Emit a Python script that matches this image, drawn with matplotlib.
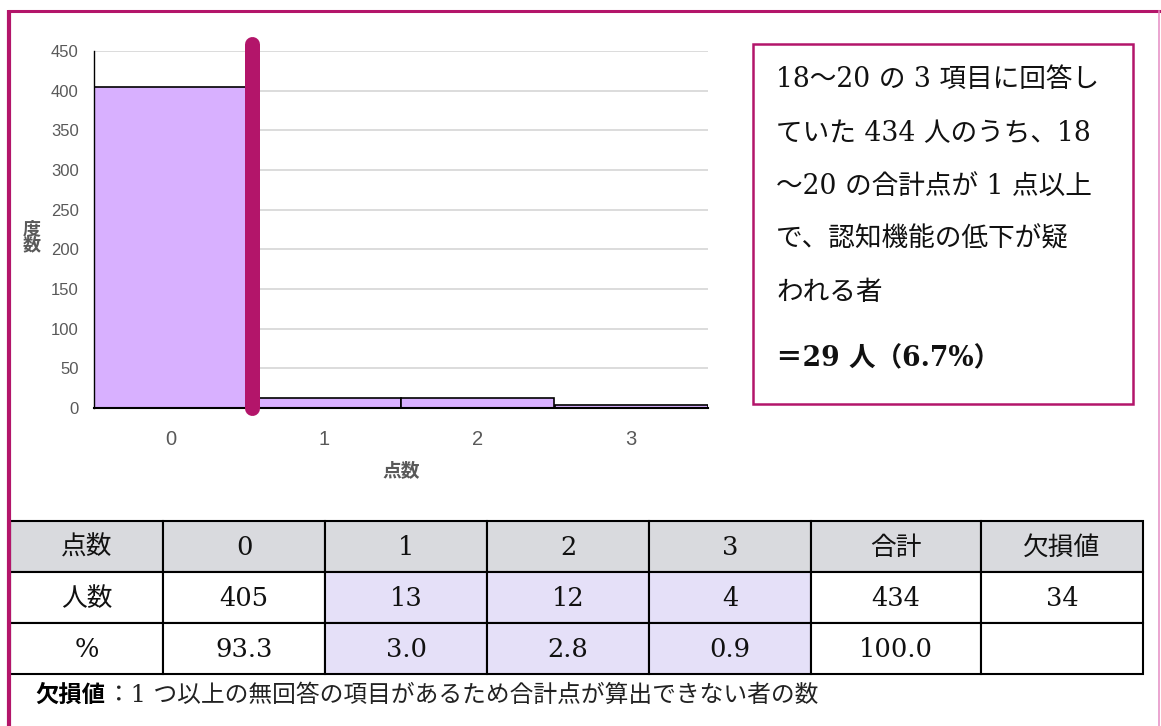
import matplotlib
matplotlib.use('Agg')
import matplotlib.pyplot as plt
from matplotlib.patches import Rectangle

# data
scores = [0, 1, 2, 3]
counts = [405, 13, 12, 4]
y_ticks = [0, 50, 100, 150, 200, 250, 300, 350, 400, 450]
cut_point = 0.53  # magenta divider between 0 and 1 point

header_row = ['点数', '0', '1', '2', '3', '合計', '欠損値']
count_row = ['人数', '405', '13', '12', '4', '434', '34']
pct_row = ['%', '93.3', '3.0', '2.8', '0.9', '100.0', '']

box_lines = ['18～20 の 3 項目に回答し',
             'ていた 434 人のうち、18',
             '～20 の合計点が 1 点以上',
             'で、認知機能の低下が疑',
             'われる者']
box_result = '＝29 人（6.7%）'
note_head = '欠損値'
note_body = '：1 つ以上の無回答の項目があるため合計点が算出できない者の数'

W, H = 1161, 726
MAGENTA = '#B3156A'
BAR = '#D8B0FF'
LAV = '#E5E0F8'
HEAD = '#D9DADE'
GRAY = '#595959'
serif = ['DejaVu Serif', 'Noto Sans CJK JP']
sans = ['Liberation Sans', 'Noto Sans CJK JP']

fig = plt.figure(figsize=(W / 100, H / 100), dpi=100)

# ---- histogram ----
ax = fig.add_axes([94 / W, 1 - 408 / H, 614 / W, 357 / H])
ax.bar(scores, counts, width=1.0, color=BAR, edgecolor='black', linewidth=1.2, zorder=2)
ax.set_xlim(-0.5, 3.5)
ax.set_ylim(0, 450)
ax.set_yticks(y_ticks)
ax.set_xticks(scores)
ax.yaxis.grid(True, color='#D9D9D9', lw=1.3)
ax.set_axisbelow(True)
for s in ['top', 'right']:
    ax.spines[s].set_visible(False)
ax.spines['left'].set_linewidth(1.0)
ax.spines['bottom'].set_linewidth(1.5)
ax.tick_params(length=0)
ax.tick_params(axis='y', pad=11, labelsize=12, labelcolor=GRAY)
ax.tick_params(axis='x', pad=16, labelsize=14.5, labelcolor=GRAY)
for lb in ax.get_xticklabels() + ax.get_yticklabels():
    lb.set_family(sans)
ax.set_xlabel('点数', family=sans, fontsize=13.5, color=GRAY, fontweight='bold', labelpad=9)
ax.plot([cut_point, cut_point], [0, 459], color=MAGENTA, lw=10.8,
        solid_capstyle='round', clip_on=False, zorder=5)

# ---- overlay in pixel coordinates ----
ov = fig.add_axes([0, 0, 1, 1], zorder=10)
ov.set_xlim(0, W)
ov.set_ylim(H, 0)
ov.set_axis_off()

# frame
ov.plot([8, W], [11, 11], color=MAGENTA, lw=2.2, solid_capstyle='butt')
ov.plot([9, 9], [10, H], color=MAGENTA, lw=3.0, solid_capstyle='butt')
ov.plot([1159, 1159], [11, H], color='#E68CC3', lw=1.1)

# y label (stacked)
ov.text(32, 238, '度\n数', family=sans, fontsize=13, color=GRAY, fontweight='bold',
        ha='center', va='center', linespacing=0.95)

# text box
ov.add_patch(Rectangle((753, 44), 380, 360, fill=False, edgecolor=MAGENTA, lw=1.8))
line_y = [79, 134, 187, 239, 292]
for yy, t in zip(line_y, box_lines):
    ov.text(776, yy, t, family=serif, fontsize=19.2, ha='left', va='center', color='#111111')
ov.text(776, 359, box_result, family=serif, fontsize=19.2, ha='left', va='center',
        fontweight='bold', color='#111111')

# table
col_x = [10, 163, 325, 487, 649, 811, 981, 1143]
row_y = [521, 572, 623, 674]
rows = [header_row, count_row, pct_row]
for r, row in enumerate(rows):
    for c, val in enumerate(row):
        x0, x1 = col_x[c], col_x[c + 1]
        y0, y1 = row_y[r], row_y[r + 1]
        if r == 0:
            fc = HEAD
        elif 2 <= c <= 4:
            fc = LAV
        else:
            fc = 'white'
        ov.add_patch(Rectangle((x0, y0), x1 - x0, y1 - y0, facecolor=fc,
                               edgecolor='black', lw=1.5))
        ov.text((x0 + x1) / 2, (y0 + y1) / 2 + 1, val, family=serif, fontsize=18.5,
                ha='center', va='center', color='#111111')

# note
ov.text(35, 695, note_head, family=sans, fontsize=16.8, fontweight='bold',
        ha='left', va='center', color='black')
ov.text(107, 695, note_body, family=serif, fontsize=17.1, ha='left', va='center',
        color='#222222')

fig.savefig('out.png', dpi=100)
